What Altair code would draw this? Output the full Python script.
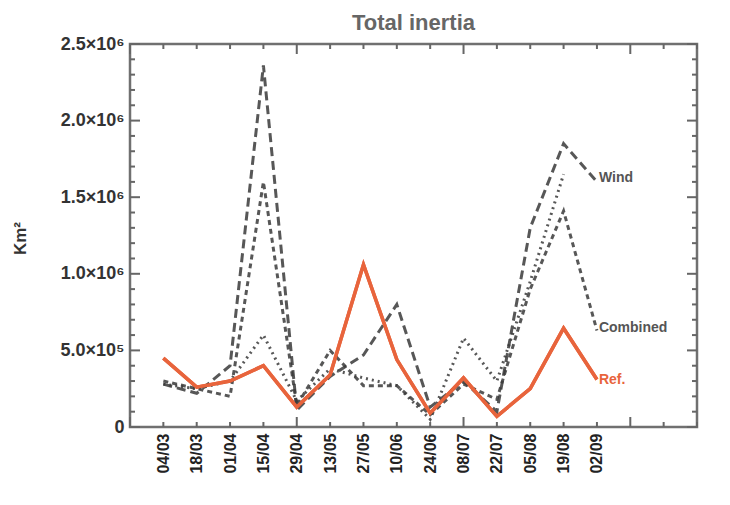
import altair as alt
import pandas as pd

# ---- data (values in units of 10^6 Km^2) ----
dates = ["04/03", "18/03", "01/04", "15/04", "29/04", "13/05", "27/05",
         "10/06", "24/06", "08/07", "22/07", "05/08", "19/08", "02/09"]
ref = [0.45, 0.26, 0.30, 0.40, 0.13, 0.34, 1.06, 0.44, 0.09, 0.32, 0.07, 0.25, 0.645, 0.31]
wind = [0.28, 0.22, 0.40, 2.36, 0.11, 0.33, 0.47, 0.80, 0.13, 0.30, 0.10, 1.30, 1.85, 1.60]
combined = [0.30, 0.25, 0.20, 1.60, 0.14, 0.50, 0.27, 0.27, 0.08, 0.28, 0.18, 0.90, 1.41, 0.63]
third = [0.28, 0.25, 0.30, 0.60, 0.17, 0.38, 0.32, 0.27, 0.05, 0.58, 0.30, 0.95, 1.65, None]

y_tick_values = [0, 0.5, 1.0, 1.5, 2.0, 2.5]
y_tick_labels = ["0", "5.0×10⁵", "1.0×10⁶", "1.5×10⁶", "2.0×10⁶", "2.5×10⁶"]

FONT = "Liberation Sans"
W, H = 567, 383
GRAY = "#3a3a3a"
ORANGE = "#E8643C"


def series_df(vals):
    rows = [{"x": i + 1, "v": v} for i, v in enumerate(vals) if v is not None]
    return pd.DataFrame(rows)


x_scale = alt.Scale(domain=[0, 17], nice=False, zero=False)
y_scale = alt.Scale(domain=[0, 2.5], nice=False)

date_arr = "[" + ",".join("'" + d + "'" for d in [""] + dates) + "]"
x_axis = alt.Axis(values=list(range(1, 15)), labelExpr=date_arr + "[datum.value]",
                  labelAngle=-90, labelFont=FONT, labelFontSize=16, labelFontWeight="bold",
                  labelColor="#222", labelPadding=6, tickSize=0, domain=False, grid=False,
                  title="")
ymap = "{" + ",".join("'" + str(v if v % 1 else int(v)) + "':'" + l + "'"
                      for v, l in zip(y_tick_values, y_tick_labels)) + "}"
y_axis = alt.Axis(values=y_tick_values, labelExpr=ymap + "[''+datum.value]",
                  labelFont=FONT, labelFontSize=18, labelFontWeight="bold",
                  labelColor="#333", labelPadding=6, tickSize=0, domain=False, grid=False,
                  title="Km²", titleX=-110, titleY=194, titleAngle=270,
                  titleFont=FONT, titleFontSize=17, titleFontWeight="bold",
                  titleColor="#333", titleBaseline="middle", titleAlign="center")

# base layer with axes (reference line)
ref_line = alt.Chart(series_df(ref)).mark_line(color=ORANGE, strokeWidth=3.5).encode(
    x=alt.X("x:Q", scale=x_scale, axis=x_axis),
    y=alt.Y("v:Q", scale=y_scale, axis=y_axis),
)


def gray_line(vals, dash):
    return alt.Chart(series_df(vals)).mark_line(
        color=GRAY, strokeWidth=3, strokeDash=dash, opacity=0.85, strokeCap="butt"
    ).encode(x=alt.X("x:Q", scale=x_scale), y=alt.Y("v:Q", scale=y_scale))


wind_line = gray_line(wind, [9, 5])
comb_line = gray_line(combined, [5, 4])
third_line = gray_line(third, [2, 4])

# inward tick marks
xt = pd.DataFrame({"t": list(range(0, 18))})
xt["len"] = [10 if t % 5 == 0 else 5 for t in xt["t"]]
yt = pd.DataFrame({"t": [i / 10 for i in range(0, 26)]})
yt["len"] = [10 if i % 5 == 0 else 5 for i in range(0, 26)]

tick_style = dict(color="#666", strokeWidth=2)
xt_major = xt[xt["len"] == 10]
xt_minor = xt[xt["len"] == 5]
yt_major = yt[yt["len"] == 10]
yt_minor = yt[yt["len"] == 5]


def xticks(df, L):
    b = alt.Chart(df).mark_rule(**tick_style).encode(
        x=alt.X("t:Q", scale=x_scale), y=alt.value(H), y2=alt.value(H - L))
    t = alt.Chart(df).mark_rule(**tick_style).encode(
        x=alt.X("t:Q", scale=x_scale), y=alt.value(0), y2=alt.value(L))
    return [b, t]


def yticks(df, L):
    l = alt.Chart(df).mark_rule(**tick_style).encode(
        y=alt.Y("t:Q", scale=y_scale), x=alt.value(0), x2=alt.value(L))
    r = alt.Chart(df).mark_rule(**tick_style).encode(
        y=alt.Y("t:Q", scale=y_scale), x=alt.value(W), x2=alt.value(W - L))
    return [l, r]


ticks = xticks(xt_major, 10) + xticks(xt_minor, 5) + yticks(yt_major, 10) + yticks(yt_minor, 5)

# end labels
lab = pd.DataFrame({
    "label": ["Wind", "Combined", "Ref."],
    "x": [14, 14, 14],
    "v": [wind[-1], combined[-1], ref[-1]],
    "color": ["#555555", "#555555", ORANGE],
    "dy": [-4, -2, 0],
})
labels = []
for _, r in lab.iterrows():
    labels.append(alt.Chart(pd.DataFrame([r])).mark_text(
        align="left", baseline="middle", dx=2, dy=float(r["dy"]), font=FONT,
        fontSize=14, fontWeight="bold", color=r["color"]
    ).encode(x=alt.X("x:Q", scale=x_scale), y=alt.Y("v:Q", scale=y_scale), text="label:N"))

chart = alt.layer(ref_line, wind_line, comb_line, third_line, *ticks, *labels,
                  ref_line).properties(
    width=W, height=H,
    padding={"left": 122, "top": 36, "right": 25, "bottom": 70},
    autosize=alt.AutoSizeParams(type="none"),
    background="white",
    title=alt.TitleParams("Total inertia", font=FONT, fontSize=22, fontWeight="bold",
                          color="#666", offset=0, anchor="middle"),
).configure_view(stroke="#707070", strokeWidth=2.5)

chart.save("out.html", embed_options={"renderer": "svg", "actions": False})
